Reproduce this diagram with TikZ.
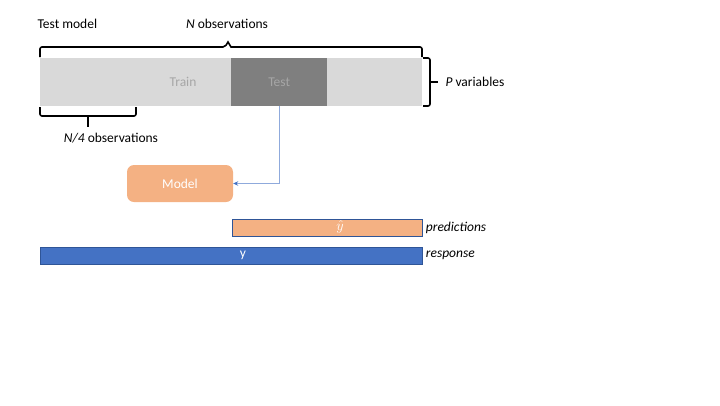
\documentclass[tikz,border=0pt]{standalone}
\usepackage{fontspec}
\setmainfont{Carlito}
\usetikzlibrary{arrows.meta}
\definecolor{barGray}{HTML}{D9D9D9}
\definecolor{testGray}{HTML}{7F7F7F}
\definecolor{labelGray}{HTML}{A6A6A6}
\definecolor{peach}{HTML}{F4B183}
\definecolor{respBlue}{HTML}{4472C4}
\definecolor{edgeBlue}{HTML}{2F5597}
\definecolor{linkBlue}{HTML}{8FAADC}

\begin{document}
\begin{tikzpicture}[x=1pt, y=-1pt, font=\fontsize{13.5}{16}\selectfont,
    bar/.style={inner sep=0pt, anchor=north west},
    brace/.style={line width=1.6pt, rounded corners=2pt},
    link/.style={draw=linkBlue, line width=1.2pt, -{Stealth[length=5pt, width=4.5pt, color=respBlue]}}]
        \useasboundingbox (0, 0) rectangle (720, 405);

        % data matrix
        \node [bar, fill=barGray, minimum width=382, minimum height=48] (data) at (40, 58) {};
        \node [bar, fill=testGray, minimum width=96, minimum height=48] (test) at (231, 58) {};
        \node [text=labelGray] (trainlbl) at (183, 82) {Train};
        \node [text=labelGray] (testlbl) at (test.center) {Test};

        % braces
        \draw [brace] (40, 57) -- (40, 47) -- (225, 47) [sharp corners] -- (228, 42) -- (231, 47) [rounded corners=2pt] -- (422, 47) -- (422, 57);
        \draw [brace] (423, 58) -- (430, 58) -- (430, 106) -- (423, 106);
        \draw [brace] (430, 82) -- (438, 82);
        \draw [brace] (40, 107) -- (40, 116) -- (136, 116) -- (136, 107);
        \draw [brace] (88, 116) -- (88, 127);
        \node [anchor=west] (testmodel) at (34, 24) {Test model};
        \node (nobs) at (227, 24) {\textit{N} observations};
        \node [anchor=west] (pvars) at (442, 82) {\textit{P} variables};
        \node (quarter) at (111, 138) {\textit{N/4} observations};

        % model
        \node [fill=peach, rounded corners=7pt, minimum width=106, minimum height=37, text=white] (model) at (180, 183.5) {Model};
        \draw [link] (test.south) |- (model.east);

        % predictions and response
        \node [bar, fill=peach, draw=edgeBlue, minimum width=190, minimum height=17] (pred) at (232, 219) {};
        \node [text=white] (yhat) at (340, 227) {$\hat{y}$};
        \node [anchor=west] (predlbl) at (pred.east) {\textit{predictions}};
        \node [bar, fill=respBlue, draw=edgeBlue, minimum width=382, minimum height=17] (resp) at (40, 247) {};
        \node [text=white] (ylbl) at (243, 255) {y};
        \node [anchor=west] (resplbl) at (resp.east) {\textit{response}};
    \end{tikzpicture}
\end{document}
